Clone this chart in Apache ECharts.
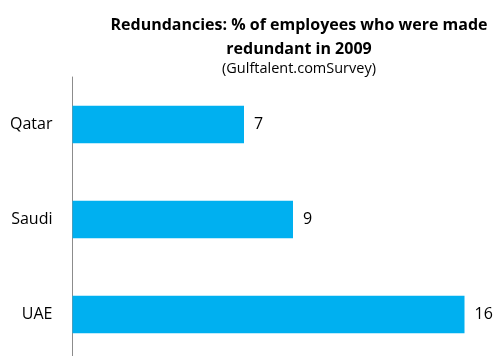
<!DOCTYPE html>
<html><head><meta charset="utf-8">
<script src="https://cdn.jsdelivr.net/npm/echarts@6/dist/echarts.min.js"></script>
<style>html,body{margin:0;padding:0;background:#fff}#c{width:499px;height:356px}</style>
</head><body><div id="c"></div>
<script>
const categories = ['Qatar', 'Saudi', 'UAE'];
const values = [7, 9, 16];
const titleText = 'Redundancies: % of employees who were made\nredundant in 2009';
const subtitleText = '(Gulftalent.comSurvey)';

const chart = echarts.init(document.getElementById('c'), null, {renderer: 'canvas'});
chart.setOption({
  animation: false,
  title: {
    text: titleText,
    subtext: subtitleText,
    left: 294, top: 8, textAlign: 'center',
    textStyle: {fontFamily: 'Open Sans', fontWeight: 'bold', fontSize: 16, color: '#000', lineHeight: 24},
    subtextStyle: {fontFamily: 'Open Sans', fontSize: 14.5, color: '#000'},
    itemGap: 0
  },
  grid: {left: 72.5, top: 77, width: 416.5, height: 285, outerBoundsMode: 'none', containLabel: false},
  xAxis: {type: 'value', min: 0, max: 17, show: false},
  yAxis: {
    type: 'category', data: categories, inverse: true,
    axisLine: {show: true, lineStyle: {color: '#8c8c8c', width: 1}},
    axisTick: {show: false},
    axisLabel: {fontFamily: 'Open Sans', fontSize: 16, color: '#000', margin: 20}
  },
  series: [{
    type: 'bar', data: values, barWidth: '39.5%',
    itemStyle: {color: '#00B0F0'},
    label: {show: true, position: 'right', distance: 10, fontFamily: 'Open Sans', fontSize: 16, color: '#000'}
  }]
});
</script></body></html>
